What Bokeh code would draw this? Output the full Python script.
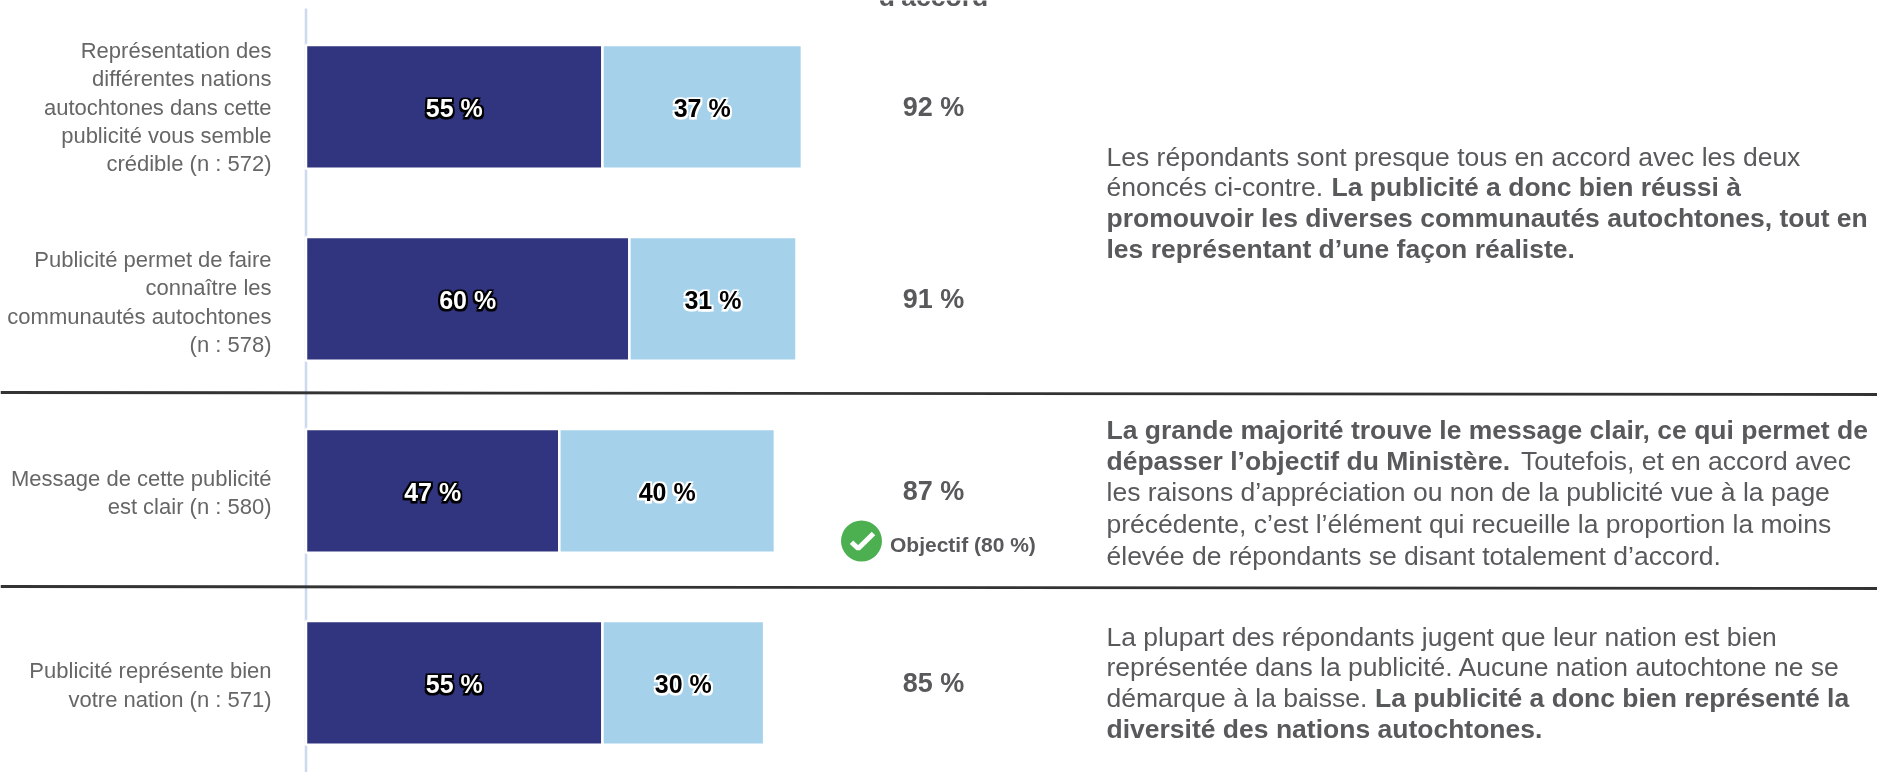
from bokeh.embed import file_html
from bokeh.resources import INLINE
from bokeh.plotting import figure
from bokeh.models import Range1d
from bokeh.core.properties import value

# ---- data ----
rows = [0, 1, 2, 3]
tout_a_fait = [55, 60, 47, 55]
plutot = [37, 31, 40, 30]
total_labels = ["92 %", "91 %", "87 %", "85 %"]

category_lines = [
    ["Représentation des", "différentes nations", "autochtones dans cette", "publicité vous semble", "crédible (n : 572)"],
    ["Publicité permet de faire", "connaître les", "communautés autochtones", "(n : 578)"],
    ["Message de cette publicité", "est clair (n : 580)"],
    ["Publicité représente bien", "votre nation (n : 571)"],
]
category_y = [
    [50, 78.3, 106.6, 135, 163.3],
    [258.5, 287, 315.5, 344],
    [477.5, 506],
    [670, 698.5],
]

comment_regular = [
    "Les répondants sont presque tous en accord avec les deux",
    "énoncés ci-contre.",
    "Toutefois, et en accord avec",
    "les raisons d’appréciation ou non de la publicité vue à la page",
    "précédente, c’est l’élément qui recueille la proportion la moins",
    "élevée de répondants se disant totalement d’accord.",
    "La plupart des répondants jugent que leur nation est bien",
    "représentée dans la publicité. Aucune nation autochtone ne se",
    "démarque à la baisse.",
]
comment_regular_x = [1106, 1106, 1520.5, 1106, 1106, 1106, 1106, 1106, 1106]
comment_regular_y = [156, 186.5, 460.5, 491.5, 523, 555, 636, 666.7, 697.5]

comment_bold = [
    "La publicité a donc bien réussi à",
    "promouvoir les diverses communautés autochtones, tout en",
    "les représentant d’une façon réaliste.",
    "La grande majorité trouve le message clair, ce qui permet de",
    "dépasser l’objectif du Ministère.",
    "La publicité a donc bien représenté la",
    "diversité des nations autochtones.",
]
comment_bold_x = [1331, 1106, 1106, 1106, 1106, 1374.5, 1106]
comment_bold_y = [186.5, 217, 248, 429, 460.5, 697.5, 728.5]

W, H = 1877, 772
PX = 5.39       # pixels per percent
X0 = 305.5      # pixel of 0 %
Y0, ROW = 106.4, 192.0

p = figure(width=W, height=H, output_backend="svg", toolbar_location=None,
           x_range=Range1d(-X0 / PX, (W - X0) / PX),
           y_range=Range1d((H - Y0) / ROW, -Y0 / ROW),
           min_border=0, outline_line_color=None, background_fill_color="white",
           border_fill_color="white")
p.axis.visible = False
p.grid.visible = False
p.extra_x_ranges["px"] = Range1d(0, W)
p.extra_y_ranges["px"] = Range1d(H, 0)
p.styles = {"position": "fixed", "left": "0px", "top": "0px"}

SANS = value("Liberation Sans")
GREY = "#58595b"
LABEL = "#666666"

# vertical axis line
p.line([X0, X0], [8, H], x_range_name="px", y_range_name="px", line_color="#ccd9ef", line_width=2.5)
# separators
p.line([0, W], [392, 394], x_range_name="px", y_range_name="px", line_color="#333333", line_width=2.8)
p.line([0, W], [586, 588], x_range_name="px", y_range_name="px", line_color="#333333", line_width=2.8)

# bars
right1 = tout_a_fait
right2 = [a + b for a, b in zip(tout_a_fait, plutot)]
BAR_H = 0.645
p.hbar(y=rows, left=0, right=right1, height=BAR_H, fill_color="#31347e", line_color="white", line_width=2.5)
p.hbar(y=rows, left=right1, right=right2, height=BAR_H, fill_color="#a5d2ea", line_color="white", line_width=2.5)


def halo_text(xs, ys, labels, fill, halo):
    common = dict(text_align="center", text_baseline="middle", text_font=SANS,
                  text_font_style="bold", text_font_size="25px")
    for dx, dy in [(-1.4, -1.4), (1.4, -1.4), (-1.4, 1.4), (1.4, 1.4)]:
        p.text(x=xs, y=ys, text=labels, x_offset=dx, y_offset=dy, text_color=halo,
               text_outline_color=halo, **common)
    p.text(x=xs, y=ys, text=labels, text_color=fill, **common)


ylab = [r + 0.008 for r in rows]
halo_text([a / 2 for a in right1], ylab, [f"{a} %" for a in tout_a_fait], "white", "black")
halo_text([(a + b) / 2 for a, b in zip(right1, right2)], ylab, [f"{b} %" for b in plutot], "black", "white")

# totals
p.text(x=[933] * 4, y=[Y0 + ROW * r for r in rows], x_range_name="px", y_range_name="px", text=total_labels,
       text_align="center", text_baseline="middle", text_font=SANS, text_font_style="bold",
       text_font_size="27px", text_color=GREY)
p.text(x=[933], y=[-3.5], x_range_name="px", y_range_name="px", text=["d'accord"],
       text_align="center", text_baseline="middle", text_font=SANS, text_font_style="bold",
       text_font_size="26.5px", text_color=GREY)

# objective
p.scatter(x=[861], y=[540.5], x_range_name="px", y_range_name="px", size=41, marker="circle",
          fill_color="#4caf50", line_color=None)
p.line([851, 857.7, 873], [541.7, 548, 533], x_range_name="px", y_range_name="px",
       line_color="white", line_width=5)
p.text(x=[889.5], y=[544], x_range_name="px", y_range_name="px", text=["Objectif (80 %)"],
       text_align="left", text_baseline="middle", text_font=SANS, text_font_style="bold",
       text_font_size="21px", text_color=GREY)

# category labels
xs, ys, ts = [], [], []
for lines, yy in zip(category_lines, category_y):
    for t, y in zip(lines, yy):
        xs.append(271); ys.append(y); ts.append(t)
p.text(x=xs, y=ys, x_range_name="px", y_range_name="px", text=ts, text_align="right", text_baseline="middle",
       text_font=SANS, text_font_size="22px", text_color=LABEL)

# comments
p.text(x=comment_regular_x, y=comment_regular_y, x_range_name="px", y_range_name="px", text=comment_regular,
       text_align="left", text_baseline="middle", text_font=SANS, text_font_size="26.5px", text_color=GREY)
p.text(x=comment_bold_x, y=comment_bold_y, x_range_name="px", y_range_name="px", text=comment_bold,
       text_align="left", text_baseline="middle", text_font=SANS, text_font_style="bold",
       text_font_size="26.5px", text_color=GREY)

open("out.html", "w").write(file_html(p, INLINE))
